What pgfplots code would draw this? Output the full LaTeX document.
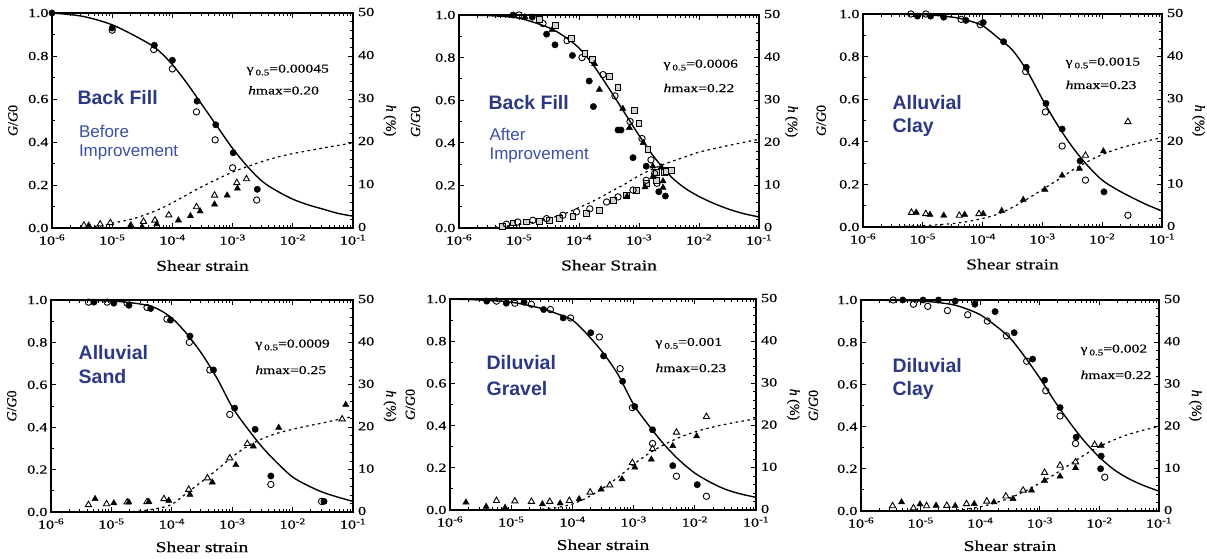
\documentclass[border=0pt]{standalone}
\usepackage{fontspec}
\setmainfont[FakeStretch=1.3, FakeBold=0.4]{Liberation Serif}
\newfontfamily\rotfont[FakeBold=0.4]{Liberation Serif}
\newfontfamily\sansfont{Liberation Sans}
\usepackage{pgfplots}
\pgfplotsset{compat=1.18}

\definecolor{ttlblue}{RGB}{44,56,132}
\definecolor{subblue}{RGB}{60,78,165}

\newcommand\ttl{\sansfont\bfseries\fontsize{19.5}{22}\selectfont}
\newcommand\sbt{\sansfont\fontsize{17}{19}\selectfont}
\newcommand\ann{\fontsize{12}{14}\selectfont}

\pgfplotsset{
  common/.style={
    scale only axis, xmin=-6, xmax=-1, clip mode=individual,
    tick align=inside, major tick length=5pt, minor tick length=3pt,
    axis line style={line width=1.1pt}, tick style={line width=0.9pt, black},
    ticklabel style={font=\fontsize{12.5}{14}\selectfont},
    yticklabel style={/pgf/number format/assume math mode=true},
  },
  panelL/.style={
    common, ymin=0, ymax=1,
    xtick={-6,-5,-4,-3,-2,-1},
    xticklabels={10\textsuperscript{-6},10\textsuperscript{-5},10\textsuperscript{-4},10\textsuperscript{-3},10\textsuperscript{-2},10\textsuperscript{-1}},
    xticklabel style={yshift=-3pt},
    minor xtick={-5.699,-5.523,-5.398,-5.301,-5.222,-5.155,-5.097,-5.046,
                 -4.699,-4.523,-4.398,-4.301,-4.222,-4.155,-4.097,-4.046,
                 -3.699,-3.523,-3.398,-3.301,-3.222,-3.155,-3.097,-3.046,
                 -2.699,-2.523,-2.398,-2.301,-2.222,-2.155,-2.097,-2.046,
                 -1.699,-1.523,-1.398,-1.301,-1.222,-1.155,-1.097,-1.046},
    ytick={0,0.2,0.4,0.6,0.8,1},
    minor ytick={0.1,0.3,0.5,0.7,0.9},
    yticklabel style={/pgf/number format/.cd, fixed, fixed zerofill, precision=1},
    xtick pos=both, ytick pos=left,
    ylabel={\rotfont\fontsize{14}{16}\selectfont\textit{G}/\textit{G}0},
    every axis y label/.style={at={(axis description cs:-0.13,0.5)}, rotate=90, anchor=center},
    every axis x label/.style={at={(axis description cs:0.5,-0.175)}, anchor=center, font=\fontsize{15}{17}\selectfont},
  },
  panelR/.style={
    common, ymin=0, ymax=50,
    axis x line=none, axis y line*=right,
    ytick={0,10,20,30,40,50}, minor y tick num=4,
    yticklabel style={xshift=1.5pt, yshift=1pt},
    ylabel={\rotfont\fontsize{14}{16}\selectfont\textit{h} (\%)},
    every axis y label/.style={at={(axis description cs:1.122,0.5)}, rotate=-90, anchor=center},
  },
  gcurve/.style={black, line width=1.4pt, no marks, smooth},
  hcurve/.style={black, line width=1.2pt, dash pattern=on 2.5pt off 3.5pt, no marks, smooth},
  fc/.style={only marks, mark=*, mark size=3.2pt, mark options={fill=black, draw=black}},
  oc/.style={only marks, mark=o, mark size=3.2pt, mark options={fill=white, draw=black, line width=0.9pt}},
  ft/.style={only marks, mark=triangle*, mark size=3.6pt, mark options={fill=black, draw=black}},
  ot/.style={only marks, mark=triangle*, mark size=3.6pt, mark options={fill=white, draw=black, line width=0.9pt}},
  os/.style={only marks, mark=square*, mark size=2.9pt, mark options={fill=gray!35, draw=black, line width=0.9pt}},
}

\begin{document}
\begin{tikzpicture}
\path[use as bounding box] (0,0) rectangle (1207pt,559pt);

% ---------------- Panel 1: Back Fill before improvement
\begin{axis}[panelL, at={(52pt,331pt)}, anchor=south west, width=301pt, height=215pt, xlabel={Shear strain}]
\addplot[gcurve] coordinates {(-6,1.0) (-5.5,0.985) (-5,0.945) (-4.5,0.875) (-4.25,0.83) (-4,0.76) (-3.75,0.67) (-3.5,0.57) (-3.25,0.47) (-3,0.37) (-2.75,0.285) (-2.5,0.215) (-2.25,0.17) (-2,0.134) (-1.75,0.108) (-1.5,0.088) (-1.25,0.068) (-1,0.055)};
\addplot[oc] coordinates {(-5,0.92) (-4.31,0.83) (-4.0,0.74) (-3.6,0.54) (-3.29,0.41) (-3.0,0.28) (-2.6,0.13)};
\addplot[fc] coordinates {(-6,1.0) (-5,0.93) (-4.30,0.85) (-4.0,0.78) (-3.59,0.59) (-3.28,0.48) (-2.99,0.35) (-2.59,0.18)};
\node[anchor=west, font=\ttl, text=ttlblue] at (axis description cs:0.073,0.605) {Back Fill};
\node[anchor=west, font=\sbt, text=subblue] at (axis description cs:0.078,0.447) {Before};
\node[anchor=west, font=\sbt, text=subblue] at (axis description cs:0.078,0.353) {Improvement};
\node[anchor=west, font=\ann] at (axis description cs:0.635,0.735) {γ\,\raisebox{-0.5ex}{\fontsize{8.5}{9}\selectfont 0.5}=0.00045};
\node[anchor=west, font=\ann] at (axis description cs:0.64,0.64) {\textit{h}max=0.20};
\end{axis}
\begin{axis}[panelR, at={(52pt,331pt)}, anchor=south west, width=301pt, height=215pt]
\addplot[hcurve] coordinates {(-5.6,0) (-5.2,0.5) (-5,1.1) (-4.64,2.2) (-4.35,3.6) (-4.09,5.2) (-3.8,7.4) (-3.54,9.4) (-3.25,11.4) (-3.0,13.0) (-2.75,14.3) (-2.5,15.5) (-2.25,16.5) (-2,17.3) (-1.5,18.6) (-1,19.8)};
\addplot[ot] coordinates {(-5.47,0.6) (-5.2,0.9) (-5.03,1.2) (-4.69,0.6) (-4.48,1.5) (-4.29,1.8) (-4.06,3.0) (-3.6,4.9) (-3.3,7.6) (-2.93,10.5) (-2.77,11.4)};
\addplot[ft] coordinates {(-5.39,0.6) (-4.70,0.4) (-4.50,0.2) (-4.26,0.9) (-3.90,1.8) (-3.70,2.8) (-3.54,3.9) (-3.30,5.5) (-3.09,7.6) (-2.92,9.2)};
\end{axis}

% ---------------- Panel 2: Back Fill after improvement
\begin{axis}[panelL, at={(459pt,331pt)}, anchor=south west, width=300pt, height=213pt, xlabel={Shear Strain},
  every axis y label/.append style={at={(axis description cs:-0.145,0.5)}}]
\addplot[gcurve] coordinates {(-6,1.0) (-5.5,0.997) (-5,0.985) (-4.5,0.94) (-4.25,0.9) (-4,0.845) (-3.75,0.76) (-3.5,0.655) (-3.25,0.545) (-3,0.435) (-2.75,0.334) (-2.5,0.25) (-2.25,0.19) (-2,0.148) (-1.75,0.115) (-1.5,0.088) (-1.25,0.067) (-1,0.052)};
\addplot[oc] coordinates {(-5.0,1.0) (-4.6,0.96) (-4.2,0.88) (-3.95,0.8) (-3.6,0.72) (-3.4,0.62) (-3.15,0.5) (-2.95,0.42) (-2.8,0.32) (-2.7,0.21)};
\addplot[os] coordinates {(-4.66,0.98) (-4.39,0.95) (-4.12,0.89) (-3.9,0.82) (-3.77,0.79) (-3.49,0.71) (-3.35,0.66) (-3.08,0.55) (-3.0,0.49) (-2.85,0.37) (-2.71,0.26) (-2.57,0.26) (-2.52,0.27)};
\addplot[ft] coordinates {(-4.9,0.99) (-4.45,0.93) (-3.74,0.77) (-3.66,0.65) (-3.27,0.56) (-3.16,0.47) (-2.93,0.40) (-2.77,0.29) (-2.6,0.19)};
\addplot[fc] coordinates {(-5.1,1.0) (-4.78,0.99) (-4.54,0.91) (-4.4,0.86) (-4.11,0.81) (-3.83,0.69) (-3.76,0.57) (-3.35,0.46) (-3.3,0.46) (-3.1,0.33) (-2.88,0.29) (-2.67,0.17) (-2.56,0.15)};
\node[anchor=west, font=\ttl, text=ttlblue] at (axis description cs:0.087,0.587) {Back Fill};
\node[anchor=west, font=\sbt, text=subblue] at (axis description cs:0.09,0.437) {After};
\node[anchor=west, font=\sbt, text=subblue] at (axis description cs:0.09,0.343) {Improvement};
\node[anchor=west, font=\ann] at (axis description cs:0.67,0.765) {γ\,\raisebox{-0.5ex}{\fontsize{8.5}{9}\selectfont 0.5}=0.0006};
\node[anchor=west, font=\ann] at (axis description cs:0.67,0.657) {\textit{h}max=0.22};
\end{axis}
\begin{axis}[panelR, at={(459pt,331pt)}, anchor=south west, width=300pt, height=213pt,
  every axis y label/.append style={at={(axis description cs:1.108,0.5)}}]
\addplot[hcurve] coordinates {(-5.5,0.1) (-5.25,0.4) (-5,0.8) (-4.75,1.4) (-4.5,2.2) (-4.25,3.3) (-4,4.8) (-3.75,6.4) (-3.5,8.3) (-3.25,10.2) (-3,12.3) (-2.75,14.0) (-2.5,15.4) (-2.25,16.6) (-2,17.8) (-1.5,19.4) (-1,20.8)};
\addplot[os] coordinates {(-5.27,0.4) (-5.1,1.2) (-4.88,1.4) (-4.66,1.6) (-4.49,1.8) (-4.32,2.2) (-4.1,2.7) (-3.88,3.4) (-3.66,4.2) (-3.43,6.5) (-3.21,7.7) (-3.04,8.9) (-2.88,10.4) (-2.71,11.2) (-2.54,13.2) (-2.46,13.6)};
\addplot[oc] coordinates {(-5.21,0.9) (-5.02,1.4) (-4.77,1.8) (-4.54,2.2) (-4.27,3.0) (-4.04,3.8) (-3.82,4.5) (-3.54,6.1) (-3.35,7.3) (-3.1,8.9) (-2.88,11.2) (-2.74,12.8)};
\addplot[ft] coordinates {(-3.2,7.4) (-2.9,9.6) (-2.77,12.0) (-2.63,14.3) (-2.6,11.0)};
\end{axis}

% ---------------- Panel 3: Alluvial Clay
\begin{axis}[panelL, at={(863pt,332pt)}, anchor=south west, width=299pt, height=213pt, xlabel={Shear strain},
  every axis y label/.append style={at={(axis description cs:-0.14,0.5)}}]
\addplot[gcurve] coordinates {(-6,1.0) (-5,0.997) (-4.5,0.985) (-4.25,0.97) (-4,0.945) (-3.75,0.89) (-3.5,0.83) (-3.25,0.73) (-3,0.6) (-2.75,0.48) (-2.5,0.376) (-2.25,0.29) (-2,0.22) (-1.75,0.175) (-1.5,0.138) (-1.25,0.104) (-1,0.075)};
\addplot[oc] coordinates {(-5.2,1.0) (-4.95,1.0) (-4.36,0.975) (-4.04,0.95) (-3.28,0.73) (-2.95,0.54) (-2.67,0.38) (-2.28,0.22) (-1.57,0.055)};
\addplot[fc] coordinates {(-5.09,0.99) (-4.87,0.99) (-4.65,0.985) (-4.28,0.97) (-3.99,0.96) (-3.65,0.87) (-3.27,0.75) (-2.94,0.58) (-2.67,0.46) (-2.37,0.31) (-1.97,0.165)};
\node[anchor=west, font=\ttl, text=ttlblue] at (axis description cs:0.087,0.582) {Alluvial};
\node[anchor=west, font=\ttl, text=ttlblue] at (axis description cs:0.087,0.465) {Clay};
\node[anchor=west, font=\ann] at (axis description cs:0.666,0.77) {γ\,\raisebox{-0.5ex}{\fontsize{8.5}{9}\selectfont 0.5}=0.0015};
\node[anchor=west, font=\ann] at (axis description cs:0.666,0.667) {\textit{h}max=0.23};
\end{axis}
\begin{axis}[panelR, at={(863pt,332pt)}, anchor=south west, width=299pt, height=213pt]
\addplot[hcurve] coordinates {(-5.5,0.1) (-5,0.3) (-4.5,0.8) (-4.25,1.3) (-4,2.0) (-3.75,3.0) (-3.5,4.6) (-3.25,6.6) (-3,8.8) (-2.75,11.0) (-2.5,13.3) (-2.25,15.3) (-2,17.0) (-1.75,18.3) (-1.5,19.3) (-1.25,20.2) (-1,21.0)};
\addplot[ot] coordinates {(-5.19,3.4) (-4.95,3.1) (-4.39,2.7) (-4.06,3.1) (-2.28,16.8) (-1.57,24.7)};
\addplot[ft] coordinates {(-5.11,3.4) (-4.88,2.9) (-4.65,2.7) (-4.30,2.9) (-3.99,3.1) (-3.68,3.8) (-3.32,6.4) (-2.96,8.8) (-2.67,12.1) (-2.38,13.7) (-1.98,17.8)};
\end{axis}

% ---------------- Panel 4: Alluvial Sand
\begin{axis}[panelL, at={(51pt,47pt)}, anchor=south west, width=302pt, height=212pt, xlabel={Shear strain},
  every axis x label/.append style={at={(axis description cs:0.5,-0.165)}}]
\addplot[gcurve] coordinates {(-6,1.0) (-5,0.995) (-4.5,0.98) (-4.25,0.96) (-4,0.915) (-3.75,0.84) (-3.5,0.745) (-3.25,0.63) (-3,0.495) (-2.75,0.395) (-2.5,0.305) (-2.25,0.23) (-2,0.165) (-1.75,0.125) (-1.5,0.093) (-1.25,0.07) (-1,0.05)};
\addplot[oc] coordinates {(-5.38,0.99) (-5.07,0.99) (-4.74,0.985) (-4.41,0.965) (-4.08,0.91) (-3.71,0.80) (-3.37,0.67) (-3.04,0.46) (-2.36,0.13) (-1.52,0.05)};
\addplot[fc] coordinates {(-5.29,0.99) (-4.96,0.985) (-4.71,0.975) (-4.35,0.96) (-4.02,0.905) (-3.70,0.83) (-3.31,0.67) (-2.96,0.49) (-2.62,0.39) (-2.36,0.17) (-1.48,0.05)};
\node[anchor=west, font=\ttl, text=ttlblue] at (axis description cs:0.08,0.75) {Alluvial};
\node[anchor=west, font=\ttl, text=ttlblue] at (axis description cs:0.08,0.637) {Sand};
\node[anchor=west, font=\ann] at (axis description cs:0.665,0.788) {γ\,\raisebox{-0.5ex}{\fontsize{8.5}{9}\selectfont 0.5}=0.0009};
\node[anchor=west, font=\ann] at (axis description cs:0.665,0.67) {\textit{h}max=0.25};
\end{axis}
\begin{axis}[panelR, at={(51pt,47pt)}, anchor=south west, width=302pt, height=212pt]
\addplot[hcurve] coordinates {(-4.75,0) (-4.5,0.3) (-4.25,0.8) (-4,1.8) (-3.75,4.5) (-3.5,7.2) (-3.25,10.0) (-3,13.0) (-2.75,15.5) (-2.5,17.3) (-2.25,18.6) (-2,19.5) (-1.75,20.3) (-1.5,21.0) (-1.25,21.8) (-1,22.5)};
\addplot[ot] coordinates {(-5.38,1.7) (-5.08,1.9) (-4.74,2.3) (-4.41,2.4) (-4.13,3.1) (-3.72,5.3) (-3.41,8.0) (-3.04,12.7) (-2.75,16.1) (-1.18,21.9)};
\addplot[ft] coordinates {(-5.27,3.1) (-4.96,2.1) (-4.71,2.3) (-4.38,2.4) (-4.05,2.7) (-3.70,4.1) (-3.33,7.0) (-2.94,11.1) (-2.65,15.5) (-2.23,19.9) (-1.12,25.3)};
\end{axis}

% ---------------- Panel 5: Diluvial Gravel
\begin{axis}[panelL, at={(450pt,49pt)}, anchor=south west, width=306pt, height=211pt, xlabel={Shear strain},
  every axis x label/.append style={at={(axis description cs:0.5,-0.165)}}]
\addplot[gcurve] coordinates {(-6,1.0) (-5.5,0.995) (-5,0.985) (-4.5,0.955) (-4.25,0.93) (-4,0.9) (-3.75,0.83) (-3.5,0.745) (-3.25,0.64) (-3,0.5) (-2.75,0.4) (-2.5,0.31) (-2.25,0.235) (-2,0.175) (-1.75,0.132) (-1.5,0.098) (-1.25,0.076) (-1,0.06)};
\addplot[oc] coordinates {(-5.24,0.99) (-4.94,0.98) (-4.67,0.975) (-4.36,0.95) (-4.03,0.91) (-3.56,0.82) (-3.22,0.67) (-3.02,0.485) (-2.69,0.315) (-2.30,0.16) (-1.81,0.065)};
\addplot[fc] coordinates {(-5.40,0.99) (-5.08,0.98) (-4.79,0.985) (-4.47,0.95) (-4.15,0.91) (-3.70,0.84) (-3.49,0.73) (-3.18,0.61) (-2.98,0.49) (-2.69,0.38) (-2.36,0.21) (-1.96,0.12)};
\node[anchor=west, font=\ttl, text=ttlblue] at (axis description cs:0.108,0.697) {Diluvial};
\node[anchor=west, font=\ttl, text=ttlblue] at (axis description cs:0.108,0.578) {Gravel};
\node[anchor=west, font=\ann] at (axis description cs:0.66,0.79) {γ\,\raisebox{-0.5ex}{\fontsize{8.5}{9}\selectfont 0.5}=0.001};
\node[anchor=west, font=\ann] at (axis description cs:0.66,0.673) {\textit{h}max=0.23};
\end{axis}
\begin{axis}[panelR, at={(450pt,49pt)}, anchor=south west, width=306pt, height=211pt]
\addplot[hcurve] coordinates {(-4.5,0.2) (-4.25,0.6) (-4,1.4) (-3.75,3.0) (-3.5,5.2) (-3.25,7.8) (-3,10.8) (-2.75,13.4) (-2.5,15.5) (-2.25,17.2) (-2,18.5) (-1.75,19.5) (-1.5,20.3) (-1.25,21.0) (-1,21.6)};
\addplot[ot] coordinates {(-5.24,2.2) (-4.94,2.1) (-4.67,2.0) (-4.37,2.0) (-4.05,2.2) (-3.71,4.2) (-3.39,5.9) (-3.02,11.2) (-2.69,14.5) (-2.30,18.4) (-1.81,22.1)};
\addplot[ft] coordinates {(-5.74,1.8) (-5.41,0.8) (-5.10,0.55) (-4.49,1.4) (-4.20,1.6) (-3.89,2.6) (-3.53,4.9) (-3.19,7.3) (-2.98,10.1) (-2.71,12.0) (-2.36,15.2) (-1.97,17.5)};
\end{axis}

% ---------------- Panel 6: Diluvial Clay
\begin{axis}[panelL, at={(861pt,48pt)}, anchor=south west, width=298pt, height=211pt, xlabel={Shear strain},
  every axis x label/.append style={at={(axis description cs:0.5,-0.165)}},
  every axis y label/.append style={at={(axis description cs:-0.16,0.5)}}]
\addplot[gcurve] coordinates {(-6,1.0) (-5,0.995) (-4.5,0.98) (-4.25,0.96) (-4,0.93) (-3.75,0.88) (-3.5,0.82) (-3.25,0.73) (-3,0.63) (-2.75,0.52) (-2.5,0.42) (-2.25,0.33) (-2,0.255) (-1.75,0.195) (-1.5,0.152) (-1.25,0.12) (-1,0.094)};
\addplot[oc] coordinates {(-5.46,1.0) (-5.12,0.98) (-4.88,0.97) (-4.55,0.95) (-4.21,0.93) (-3.88,0.90) (-3.56,0.83) (-3.22,0.71) (-2.90,0.57) (-2.66,0.45) (-2.40,0.32) (-1.91,0.16)};
\addplot[fc] coordinates {(-5.30,1.0) (-4.96,1.0) (-4.70,1.0) (-4.42,0.995) (-4.09,0.98) (-3.75,0.945) (-3.43,0.845) (-3.12,0.72) (-2.92,0.62) (-2.66,0.49) (-2.39,0.35) (-1.98,0.20) (-1.97,0.26)};
\node[anchor=west, font=\ttl, text=ttlblue] at (axis description cs:0.094,0.69) {Diluvial};
\node[anchor=west, font=\ttl, text=ttlblue] at (axis description cs:0.094,0.573) {Clay};
\node[anchor=west, font=\ann] at (axis description cs:0.725,0.763) {γ\,\raisebox{-0.5ex}{\fontsize{8.5}{9}\selectfont 0.5}=0.002};
\node[anchor=west, font=\ann] at (axis description cs:0.725,0.645) {\textit{h}max=0.22};
\end{axis}
\begin{axis}[panelR, at={(861pt,48pt)}, anchor=south west, width=298pt, height=211pt]
\addplot[hcurve] coordinates {(-4.5,0.1) (-4.25,0.4) (-4,1.0) (-3.75,1.9) (-3.5,3.1) (-3.25,4.7) (-3,6.6) (-2.75,8.7) (-2.5,11.0) (-2.25,13.3) (-2,15.3) (-1.75,16.9) (-1.5,18.2) (-1.25,19.2) (-1,20.0)};
\addplot[ot] coordinates {(-5.47,1.2) (-5.12,0.7) (-4.90,1.2) (-4.56,1.3) (-4.23,1.7) (-3.89,2.3) (-3.57,3.5) (-3.28,4.9) (-2.92,9.1) (-2.66,10.8) (-2.40,11.6) (-2.08,15.7)};
\addplot[ft] coordinates {(-5.32,2.1) (-5.01,1.6) (-4.74,1.3) (-4.42,1.2) (-4.10,1.7) (-3.77,2.1) (-3.45,2.9) (-3.14,4.9) (-2.92,7.2) (-2.66,8.2) (-2.40,10.2) (-1.97,15.5)};
\end{axis}
\end{tikzpicture}
\end{document}
